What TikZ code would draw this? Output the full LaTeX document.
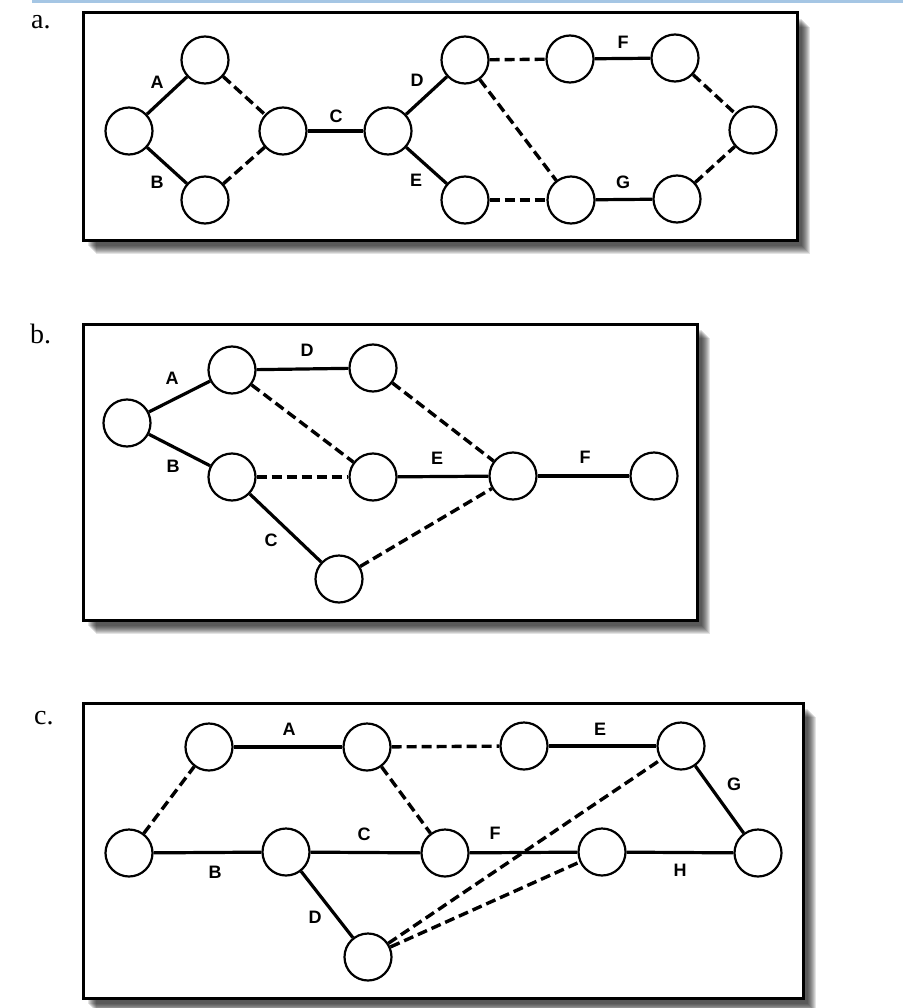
\documentclass[tikz,border=0pt]{standalone}
\usepackage{fontspec}
\setmainfont{Liberation Serif}
\newfontfamily\lblfont{Liberation Sans}
\definecolor{bandblue}{RGB}{165,198,228}
\newcommand\shadowframe[4]{%
  \foreach \i in {0,...,8}{%
    \fill[black,opacity=0.11] ({#1+5+\i},{#2+6+\i}) rectangle ({#3+5+\i},{#4+6+\i});
  }%
  \draw[line width=3pt,fill=white] (#1,#2) rectangle (#3,#4);
}
\begin{document}
\begin{tikzpicture}[x=1pt,y=-1pt,
  v/.style={circle,draw,line width=2.2pt,minimum size=47pt,inner sep=0pt,fill=white},
  act/.style={line width=3.2pt},
  dum/.style={line width=3.4pt,dash pattern=on 10pt off 5pt},
  lbl/.style={font=\lblfont\bfseries\fontsize{18}{18}\selectfont,inner sep=0pt},
  panel/.style={font=\fontsize{28}{28}\selectfont,anchor=base west,inner sep=0pt}
]
\useasboundingbox (0,0) rectangle (903,1008);
\fill[bandblue] (32,0) rectangle (903,3.5);

% ---------- panel a ----------
\node[panel] (la) at (31,29) {a.};
\shadowframe{83}{13}{797}{240}
\node[v] (a1) at (129,131) {};
\node[v] (a2) at (205,60) {};
\node[v] (a3) at (205,200) {};
\node[v] (a4) at (283,131) {};
\node[v] (a5) at (388,131) {};
\node[v] (a6) at (465,60) {};
\node[v] (a7) at (465,200) {};
\node[v] (a8) at (570,59) {};
\node[v] (a9) at (675,58) {};
\node[v] (a10) at (753,130) {};
\node[v] (a11) at (571,200) {};
\node[v] (a12) at (677,199) {};
\draw[act] (a1) -- (a2);
\draw[act] (a1) -- (a3);
\draw[dum] (a2) -- (a4);
\draw[dum] (a3) -- (a4);
\draw[act] (a4) -- (a5);
\draw[act] (a5) -- (a6);
\draw[act] (a5) -- (a7);
\draw[dum] (a6) -- (a8);
\draw[dum] (a6) -- (a11);
\draw[dum] (a7) -- (a11);
\draw[act] (a8) -- (a9);
\draw[act] (a11) -- (a12);
\draw[dum] (a9) -- (a10);
\draw[dum] (a12) -- (a10);
\node[lbl] (aA) at (157,82) {A};
\node[lbl] (aB) at (157,182) {B};
\node[lbl] (aC) at (336,116) {C};
\node[lbl] (aD) at (417,80) {D};
\node[lbl] (aE) at (416,180) {E};
\node[lbl] (aF) at (623,42) {F};
\node[lbl] (aG) at (623,182) {G};

% ---------- panel b ----------
\node[panel] (lb) at (30,343) {b.};
\shadowframe{83}{324}{697}{620}
\node[v] (b1) at (127,423) {};
\node[v] (b2) at (232,370) {};
\node[v] (b3) at (232,477) {};
\node[v] (b4) at (373,368) {};
\node[v] (b5) at (373,477) {};
\node[v] (b6) at (339,579) {};
\node[v] (b7) at (513,476) {};
\node[v] (b8) at (654,476) {};
\draw[act] (b1) -- (b2);
\draw[act] (b1) -- (b3);
\draw[act] (b2) -- (b4);
\draw[dum] (b2) -- (b5);
\draw[dum] (b3) -- (b5);
\draw[act] (b3) -- (b6);
\draw[dum] (b4) -- (b7);
\draw[act] (b5) -- (b7);
\draw[dum] (b6) -- (b7);
\draw[act] (b7) -- (b8);
\node[lbl] (bA) at (172,378) {A};
\node[lbl] (bB) at (173,466) {B};
\node[lbl] (bC) at (271,540) {C};
\node[lbl] (bD) at (307,350) {D};
\node[lbl] (bE) at (437,458) {E};
\node[lbl] (bF) at (585,457) {F};

% ---------- panel c ----------
\node[panel] (lc) at (34,724) {c.};
\shadowframe{83}{703}{803}{998}
\node[v] (c1) at (209,747) {};
\node[v] (c2) at (367,747) {};
\node[v] (c3) at (524,746) {};
\node[v] (c4) at (681,746) {};
\node[v] (c5) at (129,853) {};
\node[v] (c6) at (286,852) {};
\node[v] (c7) at (445,853) {};
\node[v] (c8) at (602,852) {};
\node[v] (c9) at (758,853) {};
\node[v] (c10) at (368,957) {};
\draw[act] (c1) -- (c2);
\draw[dum] (c2) -- (c3);
\draw[act] (c3) -- (c4);
\draw[dum] (c5) -- (c1);
\draw[act] (c5) -- (c6);
\draw[act] (c6) -- (c7);
\draw[dum] (c2) -- (c7);
\draw[act] (c7) -- (c8);
\draw[act] (c8) -- (c9);
\draw[act] (c4) -- (c9);
\draw[act] (c6) -- (c10);
\draw[dum] (c10) -- (c4);
\draw[dum] (c10) -- (c8);
\node[lbl] (cA) at (289,729) {A};
\node[lbl] (cB) at (215,872) {B};
\node[lbl] (cC) at (364,834) {C};
\node[lbl] (cD) at (315,917) {D};
\node[lbl] (cE) at (600,729) {E};
\node[lbl] (cF) at (495,833) {F};
\node[lbl] (cG) at (734,784) {G};
\node[lbl] (cH) at (680,870) {H};
\end{tikzpicture}
\end{document}
